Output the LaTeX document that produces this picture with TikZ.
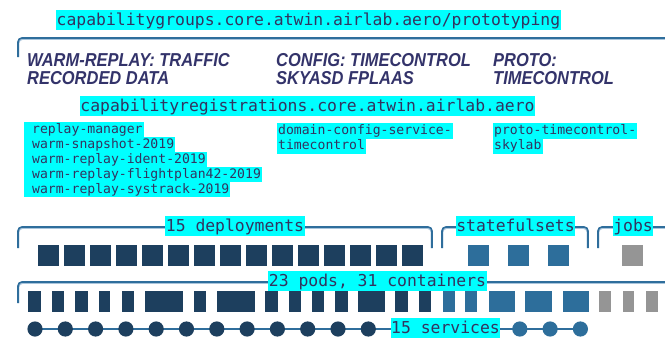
\documentclass[tikz,border=0pt]{standalone}
\usepackage{fontspec}
\setmonofont{DejaVu Sans Mono}
\newfontfamily\headfont{Liberation Sans}[FakeStretch=0.88]
\usetikzlibrary{backgrounds}
\definecolor{cyanc}{HTML}{00FFFF}
\definecolor{navy}{HTML}{1D3F5E}
\definecolor{bluec}{HTML}{2D6E9B}
\definecolor{grayc}{HTML}{959595}
\definecolor{linec}{HTML}{2F6E9C}
\definecolor{shadec}{HTML}{A9C5DC}
\definecolor{txtc}{HTML}{33335F}
\definecolor{headc}{HTML}{33336A}
\begin{document}
\begin{tikzpicture}[x=1pt,y=-1pt,
  bracket/.style={draw=linec, line width=1.7pt, rounded corners=4pt},
  bshade/.style={draw=shadec, line width=1pt, rounded corners=4pt},
  biglabel/.style={fill=cyanc, text=txtc, font=\fontsize{16.4}{18}\selectfont\ttfamily, inner xsep=0.5pt, inner ysep=0pt, text height=15.5pt, text depth=4.5pt},
  listlabel/.style={fill=cyanc, text=txtc, font=\fontsize{13.1}{15}\selectfont\ttfamily, inner xsep=1pt, inner ysep=0pt, text height=11.5pt, text depth=4pt, anchor=north west},
  heading/.style={text=headc, font=\headfont\bfseries\itshape\fontsize{18.7}{18}\selectfont, inner sep=0pt, anchor=base west},
  sq/.style={minimum size=21pt, inner sep=0pt, anchor=north west},
  podbox/.style={minimum height=21pt, inner sep=0pt, anchor=north west},
  svc/.style={circle, minimum size=15.2pt, inner sep=0pt},
  svcline/.style={draw=linec, line width=1.8pt}
]
\useasboundingbox (0,0) rectangle (665,338);

% --- brackets ---
\draw[bshade] (18.8,57) -- (18.8,39.3) -- (665,39.3);
\draw[bracket] (18,57) -- (18,38) -- (665,38);
\draw[bshade] (18.8,248) -- (18.8,228.3) -- (431.2,228.3) -- (431.2,248);
\draw[bracket] (18,248) -- (18,227) -- (432,227) -- (432,248);
\draw[bshade] (442.8,248) -- (442.8,228.3) -- (587.2,228.3) -- (587.2,248);
\draw[bracket] (442,248) -- (442,227) -- (588,227) -- (588,248);
\draw[bshade] (598.8,248) -- (598.8,228.3) -- (665,228.3);
\draw[bracket] (598,248) -- (598,227) -- (665,227);
\draw[bshade] (18.8,303) -- (18.8,283.3) -- (665,283.3);
\draw[bracket] (18,303) -- (18,282) -- (665,282);

% --- top labels ---
\node[biglabel] (group) at (308.5,20) {capabilitygroups.core.atwin.airlab.aero/prototyping};

\node[heading] (h1a) at (27,66) {WARM-REPLAY: TRAFFIC};
\node[heading] (h1b) at (27,84) {RECORDED DATA};
\node[heading] (h2a) at (276,66) {CONFIG: TIMECONTROL};
\node[heading] (h2b) at (276,84) {SKYASD FPLAAS};
\node[heading] (h3a) at (493,66) {PROTO:};
\node[heading] (h3b) at (493,84) {TIMECONTROL};

\node[biglabel] (reg) at (307.5,106) {capabilityregistrations.core.atwin.airlab.aero};

\node[listlabel] (l1) at (24,121.5) {\kern7pt replay-manager};
\node[listlabel] (l2) at (24,136.5) {\kern7pt warm-snapshot-2019};
\node[listlabel] (l3) at (24,151.5) {\kern7pt warm-replay-ident-2019};
\node[listlabel] (l4) at (24,166.5) {\kern7pt warm-replay-flightplan42-2019};
\node[listlabel] (l5) at (24,181.5) {\kern7pt warm-replay-systrack-2019};

\node[listlabel] (m1) at (277,123) {domain-config-service-};
\node[listlabel] (m2) at (277,138) {timecontrol};
\node[listlabel] (r1) at (493,123) {proto-timecontrol-};
\node[listlabel] (r2) at (493,138) {skylab};

% --- deployments / statefulsets / jobs ---
\foreach \i in {0,...,14}
  \node[sq, fill=navy] (d\i) at ({38+26*\i},245) {};
\foreach \x [count=\i] in {468,508,548}
  \node[sq, fill=bluec] (st\i) at (\x,245) {};
\node[sq, fill=grayc] (job1) at (622,245) {};

\node[biglabel] (deplabel) at (235,226) {15 deployments};
\node[biglabel] (stlabel) at (515.5,226) {statefulsets};
\node[biglabel] (joblabel) at (633,226) {jobs};

% --- pods ---
\foreach \x/\w [count=\i] in {27.7/13,51.7/12,75/12.3,98.3/11.7,121.7/12.3,145/37.7,193.3/12.4,216.7/38.3,265/12.3,288.3/12.4,311.7/12.3,335/12.3,357.7/27.3,395/12.3,418.3/12.7}
  \node[podbox, fill=navy, minimum width=\w pt] (p\i) at (\x,291) {};
\foreach \x/\w [count=\i from 16] in {442.3/12,465/11.7,488.3/26.7,525/26.7,562.3/26}
  \node[podbox, fill=bluec, minimum width=\w pt] (p\i) at (\x,291) {};
\foreach \x/\w [count=\i from 21] in {599/11.7,622.3/11.7,645.7/11.6}
  \node[podbox, fill=grayc, minimum width=\w pt] (p\i) at (\x,291) {};

\node[biglabel] (podlabel) at (377.5,281) {23 pods, 31 containers};

% --- services ---
\foreach \k [count=\i] in {0,...,11}
  \node[svc, fill=navy] (s\i) at ({35+30.3*\k},329) {};
\foreach \k [count=\i from 13] in {16,17,18}
  \node[svc, fill=bluec] (s\i) at ({35+30.3*\k},329) {};
\node[biglabel] (svclabel) at (445.5,328) {15 services};
\begin{scope}[on background layer]
  \draw[svcline] (s1.center) -- (s15.center);
\end{scope}
\end{tikzpicture}
\end{document}
